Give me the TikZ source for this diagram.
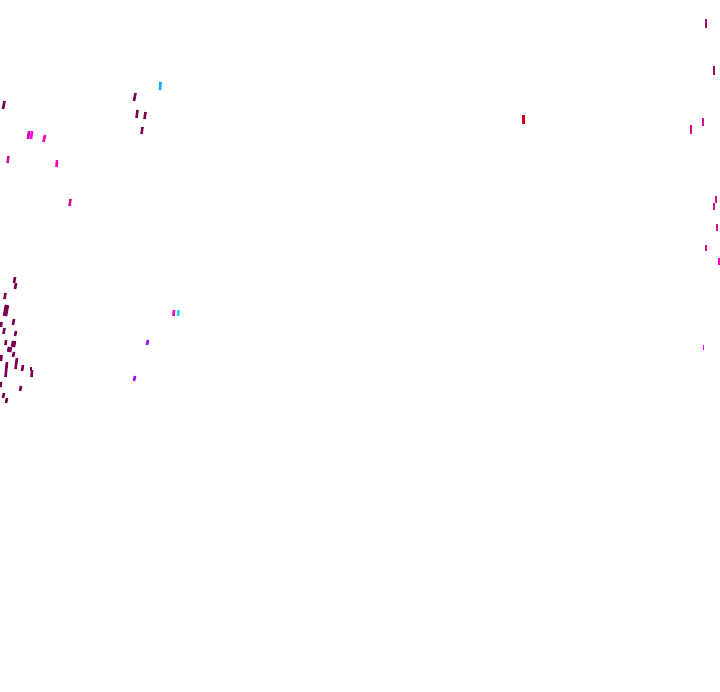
\documentclass[tikz,border=0pt]{standalone}
\usepackage{tikz}

\definecolor{plum}{HTML}{7A0052}
\definecolor{wine}{HTML}{9C0A6E}
\definecolor{rose}{HTML}{D0108E}
\definecolor{hotpink}{HTML}{FF00B4}
\definecolor{fuchsia}{HTML}{FF00FF}
\definecolor{violet}{HTML}{A010F0}
\definecolor{sky}{HTML}{10A8FF}
\definecolor{aqua}{HTML}{10D8F0}
\definecolor{blood}{HTML}{D00010}

\begin{document}
\begin{tikzpicture}[x = 1pt, y = -1pt, blip/.style = {line width = 2.6pt}, blob/.style = {line width = 4.5pt}]
  \useasboundingbox (0, 0) rectangle (720, 692);		% 枠

  % 左上
  \draw [blip, plum] (3, 109)--(4.5, 101);
  \draw [blip, rose] (28, 139)--(29, 131);
  \draw [blip, fuchsia] (31, 139)--(32, 131);
  \draw [blip, hotpink] (43.5, 142)--(45, 135);
  \draw [blip, rose] (7.5, 163)--(8.5, 156);
  \draw [blip, hotpink] (56.5, 167)--(57, 160);
  \draw [blip, rose] (69.5, 206)--(70.5, 199);

  \draw [blip, plum] (134, 101)--(135.5, 93);
  \draw [blip, plum] (136.5, 118)--(137.5, 110);
  \draw [blip, plum] (144.5, 119)--(145.5, 112);
  \draw [blip, plum] (141.5, 134)--(142.5, 127);
  \draw [blip, sky] (160, 90)--(160.5, 82);

  % 中央
  \draw [blip, hotpink] (173.5, 316)--(174, 310);
  \draw [blip, aqua] (178, 316)--(178.5, 310);
  \draw [blip, violet] (147, 345)--(148, 340);
  \draw [blip, violet] (134, 381)--(135, 376);
  \draw [blip, blood] (523.5, 124)--(523.5, 115);

  % 右端
  \draw [blip, wine] (706, 28)--(706, 19);
  \draw [blip, wine] (714, 75)--(714, 66);
  \draw [blip, rose] (703, 126)--(703, 118);
  \draw [blip, rose] (691, 134)--(691, 125);
  \draw [blip, rose] (716, 203)--(716, 196);
  \draw [blip, rose] (714, 210)--(714, 203);
  \draw [blip, rose] (717, 231)--(717, 224);
  \draw [blip, rose] (706, 251)--(706, 245);
  \draw [blip, hotpink] (719, 265)--(719, 258);
  \draw [thin, fuchsia] (703.5, 350)--(703.5, 345);

  % 左下の群れ
  \draw [blip, plum] (14, 283)--(15, 277);
  \draw [blip, plum] (15, 289)--(16, 283);
  \draw [blip, plum] (4.5, 299)--(5.5, 293);
  \draw [blob, plum] (5, 316)--(7, 305);
  \draw [blip, plum] (13, 325)--(14, 319);
  \draw [blip, plum] (1, 327)--(1.5, 322);
  \draw [blip, plum] (3.5, 334)--(4.5, 328);
  \draw [blip, plum] (15, 336)--(16, 331);
  \draw [blip, plum] (5.5, 345)--(6, 340);
  \draw [blob, plum] (13, 347)--(14, 341);
  \draw [blob, plum] (9, 352)--(10, 347);
  \draw [blip, plum] (13, 357)--(14, 352);
  \draw [blip, plum] (1, 361)--(1.5, 355);
  \draw [blip, plum] (15.5, 369)--(17, 358);
  \draw [blip, plum] (5.5, 377)--(7, 362);
  \draw [blip, plum] (22, 371)--(23, 365);
  \draw [blob, plum] (30, 369)--(32, 369);
  \draw [blip, plum] (31.5, 377)--(32, 370);
  \draw [blip, plum] (0.5, 387)--(1, 382);
  \draw [blip, plum] (20, 391)--(21, 386);
  \draw [blip, plum] (3, 398)--(4, 393);
  \draw [blip, plum] (6, 403)--(7, 398);

\end{tikzpicture}
\end{document}
